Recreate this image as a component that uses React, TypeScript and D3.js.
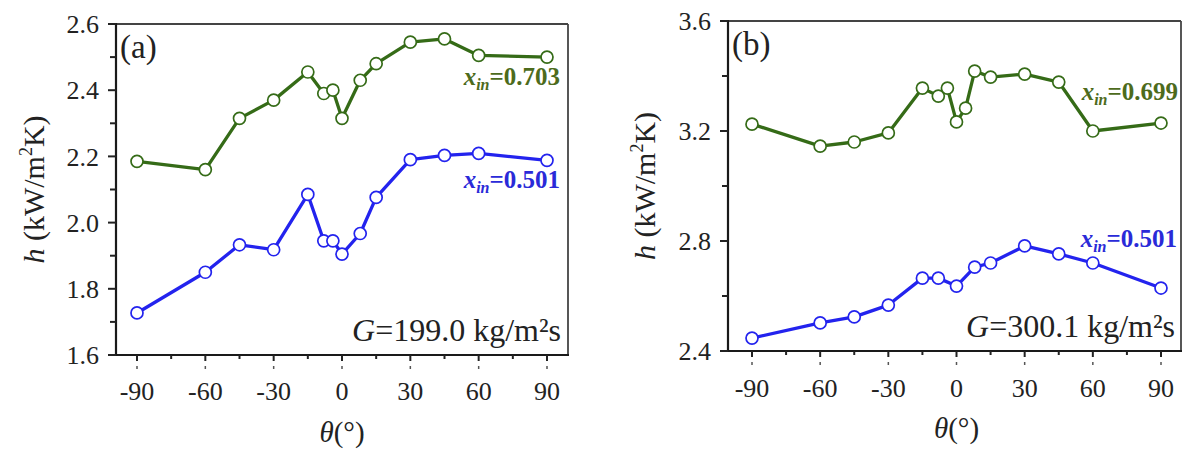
import React from 'react';
import * as d3 from 'd3';

// ---- data ----
const thetaMajorTicks = [-90, -60, -30, 0, 30, 60, 90];
const thetaMinorTicks = [-75, -45, -15, 15, 45, 75];

const yMajorA = [1.6, 1.8, 2.0, 2.2, 2.4, 2.6];
const yMinorA = [1.7, 1.9, 2.1, 2.3, 2.5];
const yMajorB = [2.4, 2.8, 3.2, 3.6];
const yMinorB = [2.6, 3.0, 3.4];

const thetaA = [-90, -60, -45, -30, -15, -8, -4, 0, 8, 15, 30, 45, 60, 90];
const hA_x703 = [2.185, 2.16, 2.315, 2.37, 2.455, 2.39, 2.4, 2.315, 2.43, 2.48, 2.545, 2.555, 2.505, 2.5];
const hA_x501 = [1.727, 1.85, 1.933, 1.918, 2.085, 1.945, 1.945, 1.905, 1.967, 2.076, 2.19, 2.203, 2.209, 2.188];

const thetaB_x699 = [-90, -60, -45, -30, -15, -8, -4, 0, 4, 8, 15, 30, 45, 60, 90];
const hB_x699 = [3.225, 3.145, 3.16, 3.193, 3.356, 3.327, 3.356, 3.233, 3.283, 3.418, 3.396, 3.407, 3.378, 3.2, 3.229];
const thetaB_x501 = [-90, -60, -45, -30, -15, -8, 0, 8, 15, 30, 45, 60, 90];
const hB_x501 = [2.447, 2.502, 2.524, 2.567, 2.665, 2.665, 2.636, 2.705, 2.72, 2.782, 2.753, 2.72, 2.629];

const GREEN = '#356b17';
const GREEN_TXT = '#4d6b1c';
const BLUE = '#2323ee';
const BLUE_TXT = '#2a2ad8';
const FONT = '"Liberation Serif", "Times New Roman", serif';

type Series = { x: number[]; y: number[]; color: string; label: string; labelColor: string; lx: number; ly: number };

type PanelProps = {
  l: number; r: number; t: number; b: number;
  x90n: number; x90p: number;
  yDomain: [number, number];
  yMajor: number[]; yMinor: number[];
  series: Series[];
  tag: string;
  gText: string; gx: number; gy: number;
  yLabelX: number; xLabelY: number; tickLabelY: number;
};

function Panel(p: PanelProps) {
  const x = d3.scaleLinear().domain([-90, 90]).range([p.x90n, p.x90p]);
  const y = d3.scaleLinear().domain(p.yDomain).range([p.b, p.t]);
  const line = d3.line<[number, number]>().x(d => x(d[0])).y(d => y(d[1]));
  const cy = (p.t + p.b) / 2;
  const cx = x(0);
  return (
    <g fontFamily={FONT}>
      {p.series.map((s, i) => {
        const pts = s.x.map((v, k) => [v, s.y[k]] as [number, number]);
        return (
          <g key={i}>
            <path d={line(pts) || ''} fill="none" stroke={s.color} strokeWidth={3.3} strokeLinejoin="round" />
            {pts.map((d, k) => (
              <circle key={k} cx={x(d[0])} cy={y(d[1])} r={6} fill="#fff" stroke={s.color} strokeWidth={1.7} />
            ))}
            <text x={s.lx} y={s.ly} textAnchor="end" fill={s.labelColor} fontWeight="bold" fontSize={25}>
              <tspan fontStyle="italic">x</tspan>
              <tspan fontStyle="italic" fontSize={16} dy={5}>in</tspan>
              <tspan dy={-5}>{s.label}</tspan>
            </text>
          </g>
        );
      })}
      {/* frame */}
      <line x1={p.l} x2={p.r} y1={p.t} y2={p.t} stroke="#444" strokeWidth={1.8} />
      <line x1={p.r} x2={p.r} y1={p.t} y2={p.b} stroke="#444" strokeWidth={1.8} />
      <line x1={p.l} x2={p.l} y1={p.t - 1} y2={p.b + 1} stroke="#1a1a1a" strokeWidth={2.2} />
      <line x1={p.l - 1} x2={p.r + 1} y1={p.b} y2={p.b} stroke="#1a1a1a" strokeWidth={2.2} />
      {p.yMajor.map(v => (
        <g key={'ym' + v}>
          <line x1={p.l - 8} x2={p.l} y1={y(v)} y2={y(v)} stroke="#222" strokeWidth={2} />
          <text x={p.l - 17} y={y(v)} dy="0.35em" textAnchor="end" fontSize={26} fill="#222">{v.toFixed(1)}</text>
        </g>
      ))}
      {p.yMinor.map(v => (
        <line key={'yn' + v} x1={p.l - 6} x2={p.l} y1={y(v)} y2={y(v)} stroke="#222" strokeWidth={2} />
      ))}
      {thetaMajorTicks.map(v => (
        <g key={'xm' + v}>
          <line x1={x(v)} x2={x(v)} y1={p.b} y2={p.b + 6} stroke="#222" strokeWidth={2} />
          <line x1={x(v)} x2={x(v)} y1={p.b + 11} y2={p.b + 14} stroke="#555" strokeWidth={1.5} />
          <text x={x(v)} y={p.tickLabelY} textAnchor="middle" fontSize={26} fill="#222">{v}</text>
        </g>
      ))}
      {thetaMinorTicks.map(v => (
        <line key={'xn' + v} x1={x(v)} x2={x(v)} y1={p.b} y2={p.b + 4} stroke="#222" strokeWidth={2} />
      ))}
      <text x={p.l + 4} y={p.t + 34} fontSize={33} fill="#222">{p.tag}</text>
      <text x={p.gx} y={p.gy} textAnchor="end" fontSize={32} fill="#222">
        <tspan fontStyle="italic">G</tspan>
        <tspan>=</tspan>
        <tspan>{p.gText}</tspan>
      </text>
      <text x={cx} y={p.xLabelY} textAnchor="middle" fontSize={29} fill="#222">
        <tspan fontStyle="italic">θ</tspan>
        <tspan>(°)</tspan>
      </text>
      <text transform={`translate(${p.yLabelX},${cy}) rotate(-90)`} textAnchor="middle" fontSize={30} fill="#222">
        <tspan fontStyle="italic">h</tspan>
        <tspan> (kW/m</tspan>
        <tspan fontSize={18} dy={-12}>2</tspan>
        <tspan dy={12}>K)</tspan>
      </text>
    </g>
  );
}

export default function App() {
  return (
    <svg width={1184} height={452} style={{ position: 'absolute', left: 0, top: 0, background: '#fff' }}>
      <rect x={0} y={0} width={1184} height={452} fill="#fff" />
      <Panel
        l={116} r={568} t={24} b={355}
        x90n={137} x90p={547}
        yDomain={[1.6, 2.6]} yMajor={yMajorA} yMinor={yMinorA}
        series={[
          { x: thetaA, y: hA_x703, color: GREEN, label: '=0.703', labelColor: GREEN_TXT, lx: 560, ly: 85 },
          { x: thetaA, y: hA_x501, color: BLUE, label: '=0.501', labelColor: BLUE_TXT, lx: 560, ly: 188 },
        ]}
        tag="(a)"
        gText="199.0 kg/m²s" gx={561} gy={341}
        yLabelX={44} xLabelY={442} tickLabelY={400}
      />
      <Panel
        l={728} r={1181} t={21} b={351}
        x90n={752} x90p={1161}
        yDomain={[2.4, 3.6]} yMajor={yMajorB} yMinor={yMinorB}
        series={[
          { x: thetaB_x699, y: hB_x699, color: GREEN, label: '=0.699', labelColor: GREEN_TXT, lx: 1178, ly: 100 },
          { x: thetaB_x501, y: hB_x501, color: BLUE, label: '=0.501', labelColor: BLUE_TXT, lx: 1177, ly: 247 },
        ]}
        tag="(b)"
        gText="300.1 kg/m²s" gx={1175} gy={337}
        yLabelX={655} xLabelY={438} tickLabelY={397}
      />
    </svg>
  );
}
